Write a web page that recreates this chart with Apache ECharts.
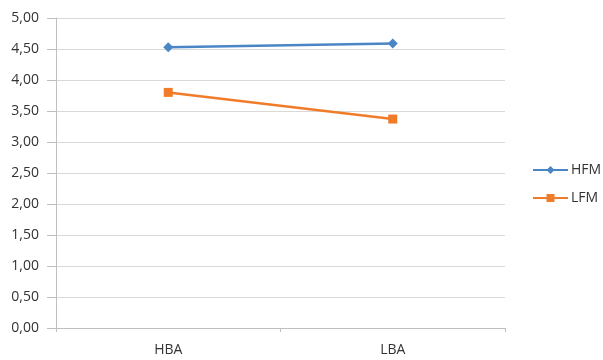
<!DOCTYPE html>
<html>
<head>
<meta charset="utf-8">
<script src="https://cdn.jsdelivr.net/npm/echarts@6/dist/echarts.min.js"></script>
<style>
  html, body { margin: 0; padding: 0; background: #fff; }
  #chart { width: 603px; height: 360px; }
</style>
</head>
<body>
<div id="chart"></div>
<script>
// Category labels and mean scores per group
const categories = ['HBA', 'LBA'];
const hfmValues = [4.53, 4.59];
const lfmValues = [3.80, 3.37];
const seriesNames = ['HFM', 'LFM'];

const fmt = v => v.toFixed(2).replace('.', ',');

const chart = echarts.init(document.getElementById('chart'));
chart.setOption({
  animation: false,
  textStyle: { fontFamily: 'Open Sans, Liberation Sans, Arial, sans-serif' },
  grid: { left: 56, right: 98, top: 18, bottom: 32 },
  legend: {
    orient: 'vertical',
    left: 527,
    top: 158,
    itemWidth: 35,
    itemHeight: 10,
    itemGap: 14,
    textStyle: { color: '#333333', fontSize: 14, padding: [0, 0, 0, -2] },
    data: seriesNames
  },
  xAxis: {
    type: 'category',
    data: categories,
    boundaryGap: true,
    axisLine: { lineStyle: { color: '#bfbfbf', width: 1 } },
    axisTick: { show: true, length: 4, lineStyle: { color: '#bfbfbf' } },
    axisLabel: { color: '#333333', fontSize: 14, margin: 15 }
  },
  yAxis: {
    type: 'value',
    min: 0,
    max: 5,
    interval: 0.5,
    axisLine: { show: true, lineStyle: { color: '#bfbfbf', width: 1 } },
    axisTick: { show: true, length: 9, lineStyle: { color: '#bfbfbf' } },
    axisLabel: { color: '#333333', fontSize: 14, margin: 17, formatter: fmt },
    splitLine: { lineStyle: { color: '#d9d9d9', width: 1 } }
  },
  series: [
    {
      name: seriesNames[0],
      type: 'line',
      data: hfmValues,
      symbol: 'diamond',
      symbolSize: 10,
      lineStyle: { color: '#4a86c5', width: 2.5 },
      itemStyle: { color: '#4a86c5' }
    },
    {
      name: seriesNames[1],
      type: 'line',
      data: lfmValues,
      symbol: 'rect',
      symbolSize: 9,
      lineStyle: { color: '#f07c2a', width: 2.5 },
      itemStyle: { color: '#f07c2a' }
    }
  ]
});
</script>
</body>
</html>
